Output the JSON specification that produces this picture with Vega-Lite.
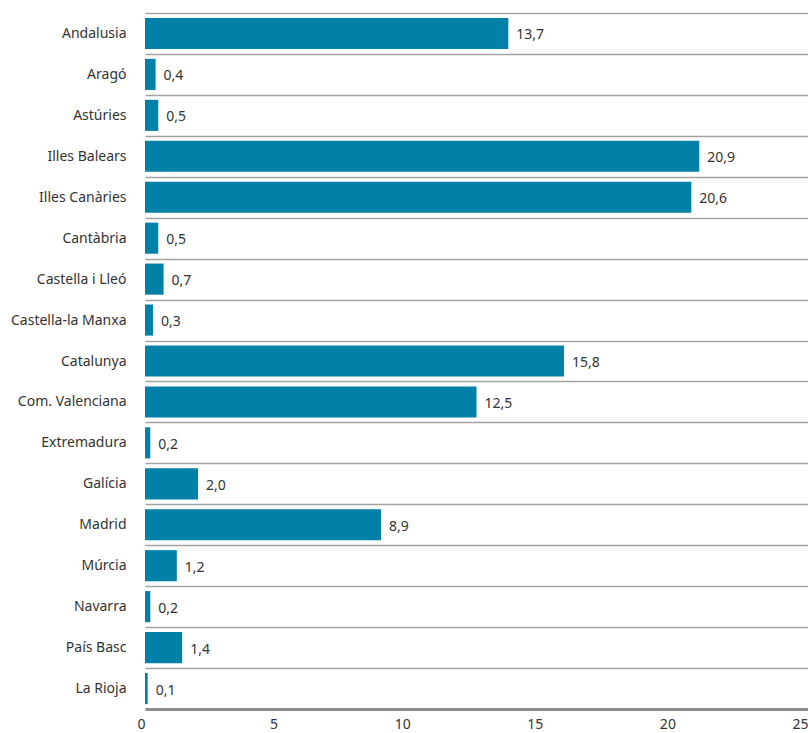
{
  "$schema": "https://vega.github.io/schema/vega-lite/v6.json",
  "width": 663,
  "height": 696,
  "autosize": {"type": "none"},
  "padding": {"left": 145, "top": 13, "right": 0, "bottom": 24},
  "background": "white",
  "config": {
    "view": {"stroke": null},
    "font": "Noto Sans",
    "locale": {"number": {"decimal": ",", "thousands": ".", "grouping": [3], "currency": ["", " €"]}}
  },
  "data": {
    "values": [
      {"region": "Andalusia", "value": 13.7},
      {"region": "Aragó", "value": 0.4},
      {"region": "Astúries", "value": 0.5},
      {"region": "Illes Balears", "value": 20.9},
      {"region": "Illes Canàries", "value": 20.6},
      {"region": "Cantàbria", "value": 0.5},
      {"region": "Castella i Lleó", "value": 0.7},
      {"region": "Castella-la Manxa", "value": 0.3},
      {"region": "Catalunya", "value": 15.8},
      {"region": "Com. Valenciana", "value": 12.5},
      {"region": "Extremadura", "value": 0.2},
      {"region": "Galícia", "value": 2.0},
      {"region": "Madrid", "value": 8.9},
      {"region": "Múrcia", "value": 1.2},
      {"region": "Navarra", "value": 0.2},
      {"region": "País Basc", "value": 1.4},
      {"region": "La Rioja", "value": 0.1}
    ]
  },
  "encoding": {
    "y": {
      "field": "region",
      "type": "nominal",
      "sort": null,
      "scale": {"paddingInner": 0, "paddingOuter": 0},
      "axis": {
        "title": null,
        "domain": false,
        "ticks": false,
        "grid": true,
        "tickBand": "extent",
        "gridColor": "#a3a3a3",
        "gridWidth": 1.3,
        "labelFontSize": 14,
        "labelColor": "#333333",
        "labelPadding": 19
      }
    },
    "x": {
      "field": "value",
      "type": "quantitative",
      "scale": {"domain": [0, 25], "nice": false},
      "axis": {
        "title": null,
        "values": [0, 5, 10, 15, 20, 25],
        "format": "d",
        "grid": false,
        "ticks": false,
        "labelFlush": false,
        "labelAlign": "right",
        "labelDx": 1,
        "domainColor": "#8c8c8c",
        "domainWidth": 3,
        "labelFontSize": 14,
        "labelColor": "#333333",
        "labelPadding": 8
      }
    }
  },
  "layer": [
    {"mark": {"type": "bar", "color": "#0281a8", "height": {"band": 0.76}}},
    {
      "mark": {"type": "text", "align": "left", "baseline": "middle", "dx": 8, "dy": 2, "fontSize": 14, "color": "#333333"},
      "encoding": {"text": {"field": "value", "type": "quantitative", "format": ".1f"}}
    }
  ]
}
